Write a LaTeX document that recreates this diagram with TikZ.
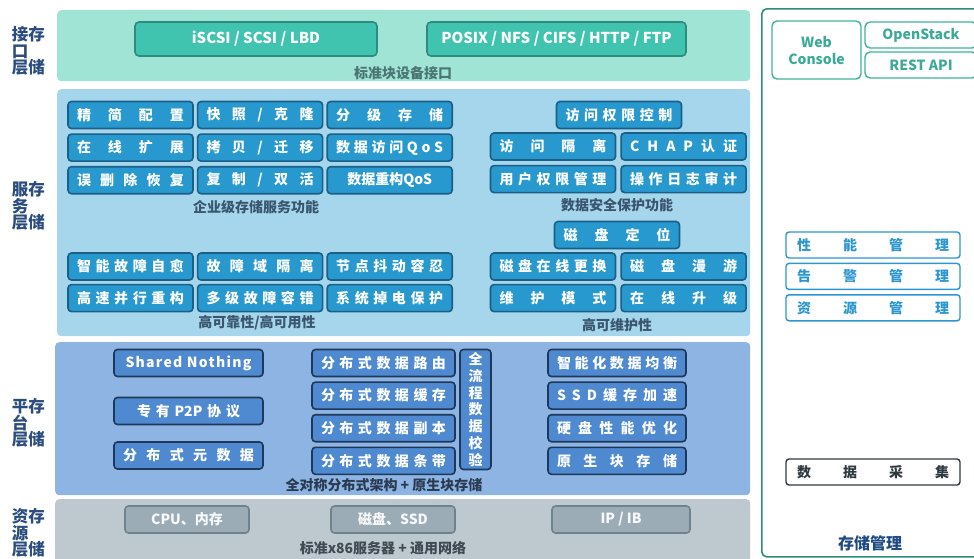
\documentclass[tikz,border=0pt]{standalone}
\usepackage{fontspec}
\setmainfont{Noto Sans CJK SC}
\usetikzlibrary{positioning}
\definecolor{ifaceband}{HTML}{A0E4D5}
\definecolor{ifacebox}{HTML}{40C4B0}
\definecolor{ifaceline}{HTML}{2E8C7E}
\definecolor{ifacecap}{HTML}{4A7573}
\definecolor{svcband}{HTML}{A5D6EC}
\definecolor{svcbox}{HTML}{2899CF}
\definecolor{svcline}{HTML}{1B5E86}
\definecolor{svccap}{HTML}{3A566E}
\definecolor{platband}{HTML}{8DB4E2}
\definecolor{platbox}{HTML}{4F8AD0}
\definecolor{platline}{HTML}{1F3859}
\definecolor{platcap}{HTML}{2A3A50}
\definecolor{resband}{HTML}{BDC9CF}
\definecolor{resbox}{HTML}{9CACB6}
\definecolor{resline}{HTML}{6F838F}
\definecolor{rescap}{HTML}{3F4A52}
\definecolor{mgmtline}{HTML}{2E8C7A}
\definecolor{webline}{HTML}{3DB39D}
\definecolor{webtext}{HTML}{3DAA98}
\definecolor{perfline}{HTML}{2B96D0}
\definecolor{collline}{HTML}{2F3A40}
\definecolor{mgmtcap}{HTML}{1F4A84}
\definecolor{lyrtext}{HTML}{2B4C7E}
\ExplSyntaxOn
\NewDocumentCommand\spread{m}
 {
  \seq_clear:N \l_tmpa_seq
  \tl_map_inline:nn {#1} { \seq_put_right:Nn \l_tmpa_seq {##1} }
  \seq_use:Nn \l_tmpa_seq { \hfill }
 }
\ExplSyntaxOff
\tikzset{
  band/.style={rounded corners=4pt, anchor=north west, inner sep=0pt},
  captxt/.style={font=\bfseries\fontsize{14}{16}\selectfont},
  lyr/.style={align=left, text=lyrtext, inner sep=0pt, font=\bfseries\fontsize{16.5}{16.5}\selectfont},
  fn/.style={draw, line width=1.6pt, rounded corners=3.5pt, text=white, align=center,
    font=\bfseries\fontsize{14}{16}\selectfont, text width=107pt, inner xsep=9pt, inner ysep=0pt, minimum height=27pt},
  svc/.style={fn, draw=svcline, fill=svcbox},
  plat/.style={fn, draw=platline, fill=platbox},
  proto/.style={draw=ifaceline, fill=ifacebox, line width=1.6pt, rounded corners=4pt, text=white,
    font=\bfseries\fontsize{15}{17}\selectfont, minimum width=242pt, minimum height=34pt},
  res/.style={draw=resline, fill=resbox, line width=1.6pt, rounded corners=3.5pt, text=white!92!resbox,
    font=\bfseries\fontsize{14}{16}\selectfont, minimum width=124pt, minimum height=27pt},
  mgmtbox/.style={draw=webline, line width=1.4pt, rounded corners=5pt, text=webtext, align=center,
    font=\bfseries\fontsize{14}{17}\selectfont},
  perf/.style={draw=perfline, line width=1.4pt, rounded corners=3pt, text=perfline, align=center,
    font=\bfseries\fontsize{14}{16}\selectfont, text width=152pt, inner xsep=11pt, inner ysep=0pt, minimum height=26pt}
}
\begin{document}
\begin{tikzpicture}[x=1pt, y=-1pt]
\useasboundingbox (0,0) rectangle (974,558);
% layer names
\node[lyr] (lyriface) at (28.5,51) {接存\\口\\层储};
\node[lyr] (lyrsvc) at (28.5,206) {服存\\务\\层储};
\node[lyr] (lyrplat) at (28.5,423) {平存\\台\\层储};
\node[lyr] (lyrres) at (28.5,533) {资存\\源\\层储};
% interface layer
\node[band, fill=ifaceband, minimum width=693pt, minimum height=71pt] (iface) at (57,10) {};
\node[proto] (blk) at (256,39) {iSCSI / SCSI / LBD};
\node[proto, minimum width=259pt] (file) at (556.5,39) {POSIX / NFS / CIFS / HTTP / FTP};
\node[captxt, text=ifacecap] (ifacecap) at (403,73) {标准块设备接口};
% service layer
\node[band, fill=svcband, minimum width=693pt, minimum height=247pt] (svc) at (57,89) {};
\node[svc] (thin) at (130.5,115) {\spread{精简配置}};
\node[svc, right=3pt of thin] (snap) {\spread{快照/克隆}};
\node[svc, right=3pt of snap] (tier) {\spread{分级存储}};
\node[svc, below=4pt of thin] (expand) {\spread{在线扩展}};
\node[svc, below=4pt of snap] (copy) {\spread{拷贝/迁移}};
\node[svc, below=4pt of tier] (qos) {\spread{数据访问QoS}};
\node[svc, below=4pt of expand] (undel) {\spread{误删除恢复}};
\node[svc, below=4pt of copy] (repl) {\spread{复制/双活}};
\node[svc, below=4pt of qos] (rqos) {数据重构QoS};
\node[captxt, text=svccap] (entcap) at (256,207) {企业级存储服务功能};
\node[svc] (acl) at (619,115) {\spread{访问权限控制}};
\node[svc] (iso) at (553,146.5) {\spread{访问隔离}};
\node[svc, right=4pt of iso] (chap) {\spread{CHAP认证}};
\node[svc, below=4pt of iso] (perm) {\spread{用户权限管理}};
\node[svc, below=4pt of chap] (audit) {\spread{操作日志审计}};
\node[captxt, text=svccap] (seccap) at (617,205) {数据安全保护功能};
\node[svc] (heal) at (130.5,266.5) {\spread{智能故障自愈}};
\node[svc, right=3pt of heal] (fdom) {\spread{故障域隔离}};
\node[svc, right=3pt of fdom] (jitter) {\spread{节点抖动容忍}};
\node[svc, below=3pt of heal] (rebuild) {\spread{高速并行重构}};
\node[svc, below=3pt of fdom] (multi) {\spread{多级故障容错}};
\node[svc, below=3pt of jitter] (power) {\spread{系统掉电保护}};
\node[captxt, text=svccap] (relcap) at (257,323) {高可靠性/高可用性};
\node[svc] (locate) at (617,235) {\spread{磁盘定位}};
\node[svc] (swap) at (553,266.5) {\spread{磁盘在线更换}};
\node[svc, right=4pt of swap] (roam) {\spread{磁盘漫游}};
\node[svc, below=3pt of swap] (maint) {\spread{维护模式}};
\node[svc, below=3pt of roam] (upgrade) {\spread{在线升级}};
\node[captxt, text=svccap] (maintcap) at (617,325) {高可维护性};
% platform layer
\node[band, fill=platband, minimum width=695pt, minimum height=153pt] (plat) at (55,342) {};
\node[plat, text width=131pt] (sn) at (188.5,363) {\addfontfeature{LetterSpace=9}Shared Nothing};
\node[plat, text width=103pt, inner xsep=23pt] (p2p) at (188.5,411) {专\hfill 有\hfill P2P\hfill 协\hfill 议};
\node[plat, text width=131pt] (meta) at (188.5,455.5) {\spread{分布式元数据}};
\node[plat, text width=125pt] (route) at (383.5,363) {\spread{分布式数据路由}};
\node[plat, text width=125pt, below=4pt of route] (cache) {\spread{分布式数据缓存}};
\node[plat, text width=125pt, below=4pt of cache] (copies) {\spread{分布式数据副本}};
\node[plat, text width=125pt, below=4pt of copies] (stripe) {\spread{分布式数据条带}};
\node[plat, text width=22pt, inner xsep=4.5pt, minimum height=120pt,
  font=\bfseries\fontsize{14}{16.8}\selectfont] (check) at (475.5,409.5) {全\\流\\程\\数\\据\\校\\验};
\node[plat, text width=120pt] (balance) at (617,363) {\spread{智能化数据均衡}};
\node[plat, text width=120pt, below=4pt of balance] (ssd) {\spread{SSD缓存加速}};
\node[plat, text width=120pt, below=4pt of ssd] (hdd) {\spread{硬盘性能优化}};
\node[plat, text width=120pt, below=4pt of hdd] (native) {\spread{原生块存储}};
\node[captxt, text=platcap] (platcap) at (384,485) {全对称分布式架构 + 原生块存储};
% resource layer
\node[band, fill=resband, minimum width=695pt, minimum height=70pt] (res) at (55,499) {};
\node[res] (cpu) at (187,519.5) {CPU、内存};
\node[res] (disk) at (393,519.5) {磁盘、SSD};
\node[res, minimum width=138pt] (net) at (621,519.5) {IP / IB};
\node[captxt, text=rescap] (rescap) at (383,548) {标准x86服务器 + 通用网络};
% storage management
\node[draw=mgmtline, line width=1.6pt, rounded corners=5pt, anchor=north west,
  minimum width=240pt, minimum height=548pt] (mgmt) at (761,8) {};
\node[mgmtbox, minimum width=89pt, minimum height=58pt] (web) at (816.5,50) {Web\\Console};
\node[mgmtbox, minimum width=112pt, minimum height=26pt] (openstack) at (921,35) {OpenStack};
\node[mgmtbox, minimum width=112pt, minimum height=26pt] (rest) at (921,65) {REST API};
\node[perf] (perfm) at (873,245) {\spread{性能管理}};
\node[perf, below=4pt of perfm] (alarm) {\spread{告警管理}};
\node[perf, below=4pt of alarm] (resm) {\spread{资源管理}};
\node[perf, draw=collline, text=collline] (collect) at (873,472) {\spread{数据采集}};
\node[captxt, text=mgmtcap, font=\bfseries\fontsize{16}{18}\selectfont] (mgmtcap) at (870,543) {存储管理};
\end{tikzpicture}
\end{document}
